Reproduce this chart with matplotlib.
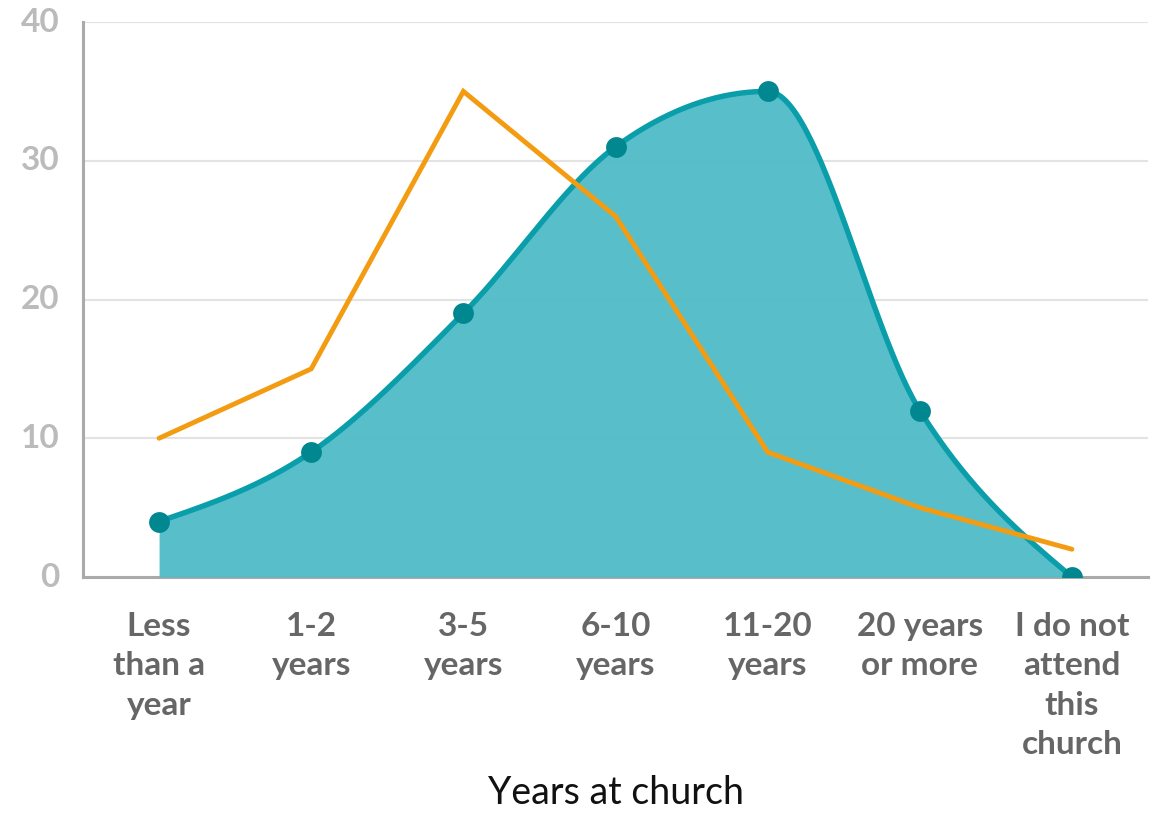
import numpy as np
import matplotlib
matplotlib.use("Agg")
import matplotlib.pyplot as plt

categories = ["Less\nthan a\nyear", "1-2\nyears", "3-5\nyears", "6-10\nyears",
              "11-20\nyears", "20 years\nor more", "I do not\nattend\nthis\nchurch"]
area_values = [4, 9, 19, 31, 35, 12, 0]
line_values = [10, 15, 35, 26, 9, 5, 2]
y_ticks = [0, 10, 20, 30, 40]
x_title = "Years at church"


def monotone_x(xs, ys, n=60):
    xs = np.asarray(xs, float)
    ys = np.asarray(ys, float)
    h = np.diff(xs)
    s = np.diff(ys) / h
    m = np.zeros_like(ys)
    for i in range(1, len(xs) - 1):
        s0, s1 = s[i - 1], s[i]
        p = (s0 * h[i] + s1 * h[i - 1]) / (h[i - 1] + h[i])
        m[i] = (np.sign(s0) + np.sign(s1)) * min(abs(s0), abs(s1), 0.5 * abs(p))
    m[0] = (3 * s[0] - m[1]) / 2
    m[-1] = (3 * s[-1] - m[-2]) / 2
    X, Y = [], []
    for i in range(len(xs) - 1):
        t = np.linspace(0, 1, n)
        h00 = 2 * t**3 - 3 * t**2 + 1
        h10 = t**3 - 2 * t**2 + t
        h01 = -2 * t**3 + 3 * t**2
        h11 = t**3 - t**2
        X.append(xs[i] + t * h[i])
        Y.append(h00 * ys[i] + h10 * h[i] * m[i] + h01 * ys[i + 1] + h11 * h[i] * m[i + 1])
    return np.concatenate(X), np.concatenate(Y)


plt.rcParams['font.family'] = ['Lato', 'DejaVu Sans']

fig = plt.figure(figsize=(11.66, 8.13), dpi=100)
ax = fig.add_axes([83 / 1166, 1 - 577 / 813, (1148 - 83) / 1166, (577 - 22) / 813])

x = np.arange(len(categories))
sx, sy = monotone_x(x, area_values)

ax.fill_between(sx, 0, sy, color='#4FBCC7', alpha=0.95, lw=0, zorder=2)
ax.plot(sx, sy, color='#0A9DAA', lw=3.9, zorder=3, solid_capstyle='round')
ax.plot(x, line_values, color='#F39C12', lw=3.5, zorder=4, solid_capstyle='round',
        solid_joinstyle='miter')
ax.plot(x, area_values, 'o', color='#00878F', markersize=15, zorder=5, markeredgewidth=0)

ax.set_xlim(-0.5, len(categories) - 0.5)
ax.set_ylim(0, 40)
ax.set_yticks(y_ticks)
ax.set_xticks(x)
ax.set_xticklabels(categories, fontsize=24, color='#666666', fontweight='bold',
                   linespacing=1.44, va='top')
ax.tick_params(axis='x', length=0, pad=25)
ax.tick_params(axis='y', length=0, pad=17, labelsize=24, labelcolor='#BBBBBB')
for lbl in ax.get_yticklabels():
    lbl.set_fontweight('bold')
    lbl.set_va('center')

ax.grid(axis='y', color='#E3E3E3', lw=1.5, zorder=0)
ax.set_axisbelow(True)
for sp in ['top', 'right']:
    ax.spines[sp].set_visible(False)
ax.spines['left'].set_color('#AAAAAA')
ax.spines['left'].set_linewidth(2.2)
ax.spines['bottom'].set_color('#AAAAAA')
ax.spines['bottom'].set_linewidth(2.2)
ax.spines['bottom'].set_zorder(1)

fig.text((83 + 1148) / 2 / 1166, 1 - 793 / 813, x_title, ha='center', va='center',
         fontsize=27, color='#111111')

fig.savefig("out.png", dpi=100)
